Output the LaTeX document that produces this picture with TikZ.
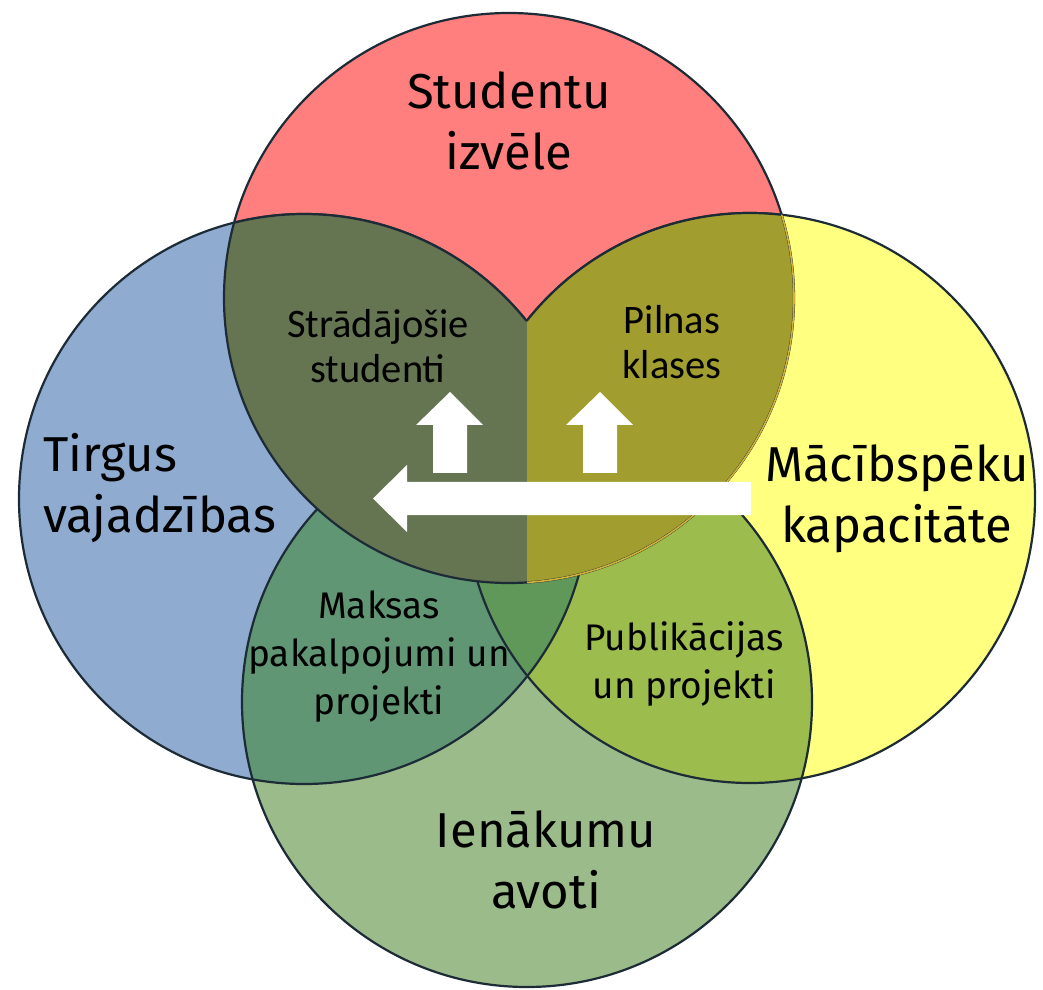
\documentclass[tikz,border=0pt]{standalone}
\usepackage{fontspec}
\setmainfont{Fira Sans}
\newfontfamily\calib{Carlito}

\definecolor{studred}{HTML}{FF7F7F}
\definecolor{tirgblue}{HTML}{8FABCF}
\definecolor{macyellow}{HTML}{FFFF80}
\definecolor{ienagreen}{HTML}{9BBB8B}
\definecolor{maksgreen}{HTML}{609674}
\definecolor{publgreen}{HTML}{9CBC4E}
\definecolor{centgreen}{HTML}{5F9858}
\definecolor{heartdark}{HTML}{657551}
\definecolor{heartolive}{HTML}{A19D2F}
\definecolor{ringline}{HTML}{1C2B36}
\definecolor{rimyellow}{HTML}{D2B23A}

\begin{document}
\begin{tikzpicture}
  [x=1pt,y=1pt,
   ring/.style={draw=ringline,line width=2.2pt},
   biglbl/.style={font=\fontsize{49}{61}\selectfont,align=center,inner sep=0pt},
   midlbl/.style={font=\fontsize{37}{48}\selectfont,align=center,inner sep=0pt},
   toplbl/.style={font=\calib\fontsize{40.5}{45}\selectfont,align=center,inner sep=0pt}]
  \useasboundingbox (0,0) rectangle (1043,989);

  \coordinate (cs) at (509,691);
  \coordinate (ct) at (304,490);
  \coordinate (cm) at (750,491);
  \coordinate (ci) at (527,287);

  % circles
  \fill[tirgblue] (ct) circle (285pt);
  \fill[macyellow] (cm) circle (285pt);
  \fill[ienagreen] (ci) circle (285pt);
  \fill[studred] (cs) circle (285pt);

  \begin{scope}
    \clip (ci) circle (285pt);
    \fill[maksgreen] (ct) circle (285pt);
    \fill[publgreen] (cm) circle (285pt);
    \clip (ct) circle (285pt);
    \fill[centgreen] (cm) circle (285pt);
  \end{scope}

  \draw[ring] (ct) circle (285pt);
  \draw[ring] (cm) circle (285pt);
  \draw[ring] (ci) circle (285pt);

  % heart in the top circle
  \begin{scope}
    \clip (cs) circle (285pt);
    \begin{scope}
      \clip (0,0) rectangle (527,989);
      \fill[heartdark] (ct) circle (285pt);
      \fill[heartdark] (cm) circle (285pt);
    \end{scope}
    \begin{scope}
      \clip (527,0) rectangle (1043,989);
      \fill[heartolive] (ct) circle (285pt);
      \fill[heartolive] (cm) circle (285pt);
    \end{scope}
  \end{scope}

  \draw[ring] (cs) circle (285pt);
  \draw[ring] (ct) ++(104.2:285pt) arc (104.2:38.65:285pt);
  \draw[ring] (cm) ++(141.6:285pt) arc (141.6:83.6:285pt);
  \begin{scope}
    \clip (527,0) rectangle (1043,989);
    \clip (cm) circle (285pt);
    \draw[rimyellow,line width=1.6pt] (cs) circle (285pt);
  \end{scope}

  % arrows
  \fill[white] (751,507) -- (407,507) -- (407,524) -- (373,490.5)
    -- (407,457) -- (407,474) -- (751,474) -- cycle;
  \fill[white] (433,516) -- (433,564) -- (416,564) -- (450,597)
    -- (483,564) -- (467,564) -- (467,516) -- cycle;
  \fill[white] (583,516) -- (583,564) -- (566,564) -- (600,597)
    -- (633,564) -- (617,564) -- (617,516) -- cycle;

  % labels
  \node[biglbl] (stud) at (509,868) {Studentu\\izvēle};
  \node[biglbl,align=left,anchor=west] (tirg) at (43,501) {Tirgus\\vajadzības};
  \node[biglbl] (macsp) at (897,490) {Mācībspēku\\kapacitāte};
  \node[biglbl] (iena) at (546,129) {Ienākumu\\avoti};

  \node[toplbl] (strad) at (378,643) {Strādājošie\\studenti};
  \node[toplbl] (piln) at (672,647) {Pilnas\\klases};
  \node[midlbl] (maks) at (379,332) {Maksas\\pakalpojumi un\\projekti};
  \node[midlbl] (publ) at (684,325) {Publikācijas\\un projekti};
\end{tikzpicture}
\end{document}
